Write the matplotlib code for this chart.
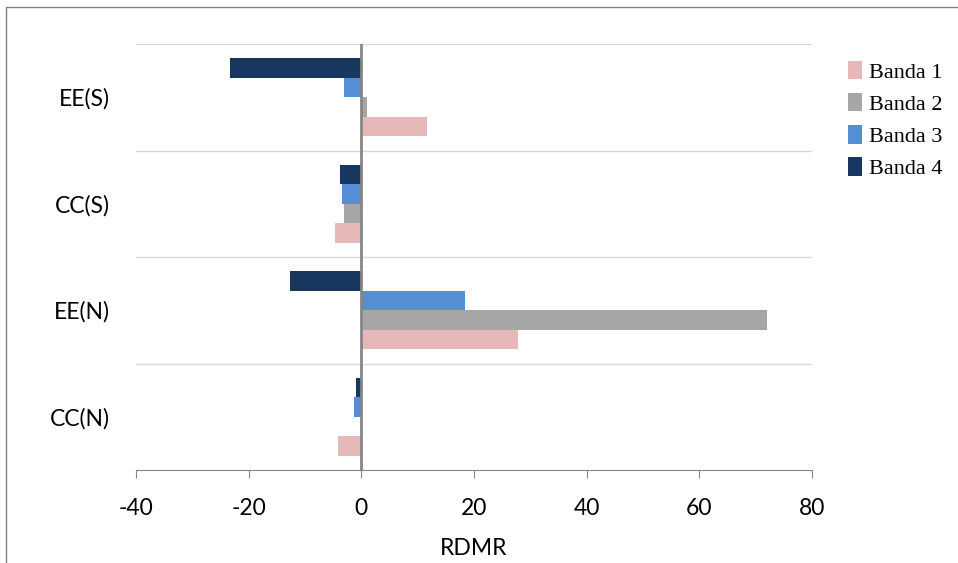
import numpy as np
import matplotlib.pyplot as plt
from matplotlib.patches import Rectangle

categories = ['CC(N)', 'EE(N)', 'CC(S)', 'EE(S)']
series_names = ['Banda 1', 'Banda 2', 'Banda 3', 'Banda 4']
banda1 = [-4.1, 27.8, -4.7, 11.6]
banda2 = [0.0, 72.0, -3.0, 1.0]
banda3 = [-1.3, 18.4, -3.5, -3.1]
banda4 = [-0.9, -12.7, -3.8, -23.3]
colors = ['#E6B9B8', '#A6A6A6', '#558ED5', '#17375E']
xticks = [-40, -20, 0, 20, 40, 60, 80]

fig = plt.figure(figsize=(9.58, 5.63), dpi=100)
ax = fig.add_axes([136 / 958, 1 - 470 / 563, 676 / 958, 426 / 563])

index = np.arange(len(categories))
bar_h = 0.183
for k, (vals, name) in enumerate(zip([banda1, banda2, banda3, banda4], series_names)):
    ax.barh(index + (k - 1.5) * bar_h, vals, bar_h, color=colors[k], label=name, zorder=3)

ax.set_xlim(-40, 80)
ax.set_ylim(-0.5, 3.5)
ax.set_xticks(xticks)
ax.set_xticklabels([str(t) for t in xticks], fontsize=16.5, family='Lato')
ax.set_yticks(index)
ax.set_yticklabels(categories, fontsize=16.5, family='Lato', va='center_baseline')
ax.tick_params(axis='y', length=0, pad=19)
ax.tick_params(axis='x', direction='out', length=6, color='#868686', pad=14)

# gridlines between categories
for y in np.arange(-0.5, 4.0, 1.0)[1:]:
    ax.axhline(y, color='#D9D9D9', lw=1, zorder=1)
ax.axvline(0, color='#868686', lw=2, zorder=4)

for s in ['top', 'right', 'left']:
    ax.spines[s].set_visible(False)
ax.spines['bottom'].set_color('#868686')

ax.set_xlabel('RDMR', fontsize=16.5, family='Lato', labelpad=14)

ax.legend(loc='upper left', bbox_to_anchor=(839 / 958, 1 - 52 / 563),
          bbox_transform=fig.transFigure, borderaxespad=0,
          frameon=False, prop={'family': 'Liberation Serif', 'size': 16},
          handlelength=0.63, handleheight=0.9, labelspacing=0.46, handletextpad=0.32)

fig.patches.append(Rectangle((6 / 958, -0.1), 2, 1.1 - 7 / 563, transform=fig.transFigure,
                             fill=False, edgecolor='#7F7F7F', lw=1))

plt.savefig('out.png', dpi=100)
